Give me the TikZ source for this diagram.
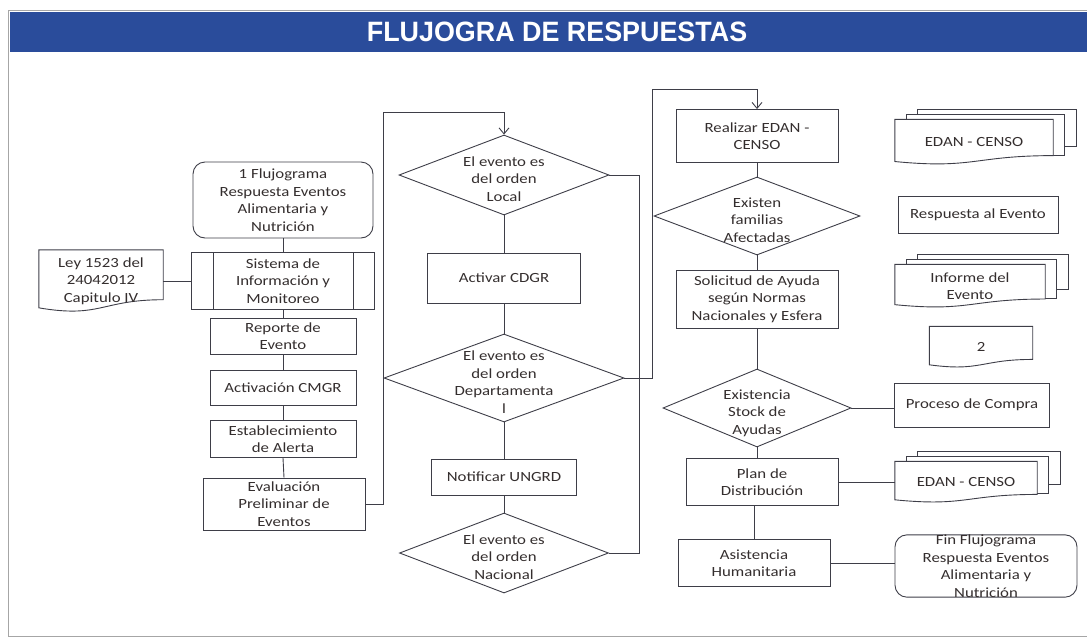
\documentclass[tikz,border=0pt]{standalone}
\usepackage{fontspec}
\setmainfont{Carlito}[FakeStretch=1.2]
\newfontfamily\titulofont{Liberation Sans}[FakeStretch=0.96]
\usetikzlibrary{shapes.geometric,calc,backgrounds,arrows.meta}

\definecolor{azulcab}{RGB}{42,76,155}
\definecolor{gris}{RGB}{62,62,72}
\definecolor{texto}{RGB}{52,46,46}

\newcommand{\rombotxt}[1]{\smash{\raisebox{-9pt}{\begin{tabular}{@{}c@{}}#1\end{tabular}}}}
% contorno de documento (borde inferior ondulado)
\newcommand{\documento}[1]{%
  \draw[caja,fill=white] (#1.north west) -- (#1.north east)
    -- ($(#1.north east)!0.8!(#1.south east)$)
    .. controls ($(#1.north)!0.8!(#1.south)$) and ($(#1.north)!1.1!(#1.south)$)
    .. ($(#1.north west)!0.93!(#1.south west)$) -- cycle;}
\newcommand{\multidoc}[1]{%
  \draw[caja,fill=white] ([xshift=23pt,yshift=10pt]#1.north west) rectangle ([xshift=23pt,yshift=18pt]#1.south east);
  \draw[caja,fill=white] ([xshift=11.5pt,yshift=5pt]#1.north west) rectangle ([xshift=11.5pt,yshift=9pt]#1.south east);
  \documento{#1}}

\begin{document}
\begin{tikzpicture}[x=1pt,y=-1pt,
    every node/.style={font=\fontsize{14}{17.5}\selectfont,text=texto,inner sep=0pt,align=center},
    caja/.style={draw=gris,line width=0.9pt},
    proceso/.style={caja,rectangle},
    terminal/.style={caja,rectangle,rounded corners=12pt},
    decision/.style={caja,diamond,aspect=2.6},
    conector/.style={draw=gris,line width=0.9pt},
    flecha/.style={conector,->},
    >={Straight Barb[length=6pt,width=10pt]}]
  \useasboundingbox (0,0) rectangle (1087,643);
  \draw[gray!70,line width=1pt] (8,10) rectangle (1100,636);
  \fill[azulcab] (10,12) rectangle (1095,52);
  \node[font=\titulofont\fontsize{28}{30}\selectfont\bfseries,text=white] (titulo) at (557,32) {FLUJOGRA DE RESPUESTAS};

  % columna izquierda
  \node[terminal,minimum width=180pt,minimum height=76pt] (ini) at (283,200) {1 Flujograma\\Respuesta Eventos\\Alimentaria y\\Nutrición};
  \node[minimum width=124pt,minimum height=62pt] (ley) at (101,281) {Ley 1523 del\\24042012\\Capitulo IV};
  \node[proceso,minimum width=183pt,minimum height=57pt] (sis) at (283,281) {Sistema de\\Información y\\Monitoreo};
  \draw[caja] ([xshift=22pt]sis.north west) -- ([xshift=22pt]sis.south west);
  \draw[caja] ([xshift=-22pt]sis.north east) -- ([xshift=-22pt]sis.south east);
  \node[proceso,minimum width=146pt,minimum height=36pt] (rep) at (283,336) {Reporte de\\Evento};
  \node[proceso,minimum width=146pt,minimum height=35pt] (act) at (283,388) {Activación CMGR};
  \node[proceso,minimum width=146pt,minimum height=37pt] (est) at (283,439) {Establecimiento\\de Alerta};
  \node[proceso,minimum width=162pt,minimum height=52pt] (eva) at (284,504) {Evaluación\\Preliminar de\\Eventos};

  % columna central
  \node[decision,minimum width=210pt,minimum height=80pt] (loc) at (504,175) {\rombotxt{El evento es\\del orden\\Local}};
  \node[proceso,minimum width=153pt,minimum height=50pt] (cdg) at (504,278) {Activar CDGR};
  \node[decision,minimum width=240pt,minimum height=88pt] (dep) at (504,378) {\rombotxt{El evento es\\del orden\\Departamenta\\l}};
  \node[proceso,minimum width=145pt,minimum height=36pt] (ung) at (504,477) {Notificar UNGRD};
  \node[decision,minimum width=209pt,minimum height=80pt] (nac) at (504,553) {\rombotxt{El evento es\\del orden\\Nacional}};

  % columna derecha
  \node[proceso,minimum width=162pt,minimum height=53pt] (rea) at (757,136) {Realizar EDAN -\\CENSO};
  \node[decision,minimum width=206pt,minimum height=78pt] (fam) at (757,216) {\rombotxt{Existen\\familias\\Afectadas}};
  \node[proceso,minimum width=162pt,minimum height=58pt] (sol) at (757,299) {Solicitud de Ayuda\\según Normas\\Nacionales y Esfera};
  \node[decision,minimum width=188pt,minimum height=78pt] (sto) at (757,408) {\rombotxt{Existencia\\Stock de\\Ayudas}};
  \node[proceso,minimum width=152pt,minimum height=47pt] (pla) at (762,482) {Plan de\\Distribución};
  \node[proceso,minimum width=152pt,minimum height=47pt] (asi) at (754,563) {Asistencia\\Humanitaria};

  % documentos
  \node[minimum width=158pt,minimum height=45pt] (edan1) at (974,142) {EDAN - CENSO};
  \node[proceso,minimum width=160pt,minimum height=37pt] (resp) at (978,215) {Respuesta al Evento};
  \node[minimum width=150pt,minimum height=43pt] (inf) at (970,286) {Informe del\\Evento};
  \node[minimum width=103pt,minimum height=41pt] (dos) at (981,347) {2};
  \node[proceso,minimum width=155pt,minimum height=44pt] (com) at (972,405) {Proceso de Compra};
  \node[minimum width=142pt,minimum height=41pt] (edan2) at (966,482) {EDAN - CENSO};
  \node[terminal,minimum width=182pt,minimum height=62pt] (fin) at (986,566) {Fin Flujograma\\Respuesta Eventos\\Alimentaria y\\Nutrición};

  \begin{pgfonlayer}{background}
    \documento{ley}
    \multidoc{edan1}
    \multidoc{inf}
    \documento{dos}
    \multidoc{edan2}
  \end{pgfonlayer}

  % conectores
  \foreach \a/\b in {ini/sis,sis/rep,rep/act,act/est,est/eva,loc/cdg,cdg/dep,dep/ung,ung/nac,rea/fam,fam/sol,sol/sto}
    \draw[conector] (\a.south) -- (\b.north);
  \draw[conector] (sto.south) -- (sto.south |- pla.north);
  \draw[conector] (asi.north) -- (asi.north |- pla.south);
  \draw[conector] (ley.east) -- (ley.east -| sis.west);
  \draw[conector] (sto.east) -- (sto.east -| com.west);
  \draw[conector] (pla.east) -- (pla.east -| edan2.west);
  \draw[conector] (asi.east) -- (asi.east -| fin.west);
  \draw[flecha] (eva.east) -- ++(18,0) |- ([yshift=22pt]loc.north) -- (loc.north);
  \draw[conector] (loc.east) -- ++(30,0) |- (nac.east);
  \draw[flecha] (dep.east) -- ++(28,0) |- ([yshift=20pt]rea.north) -- (rea.north);
\end{tikzpicture}
\end{document}
